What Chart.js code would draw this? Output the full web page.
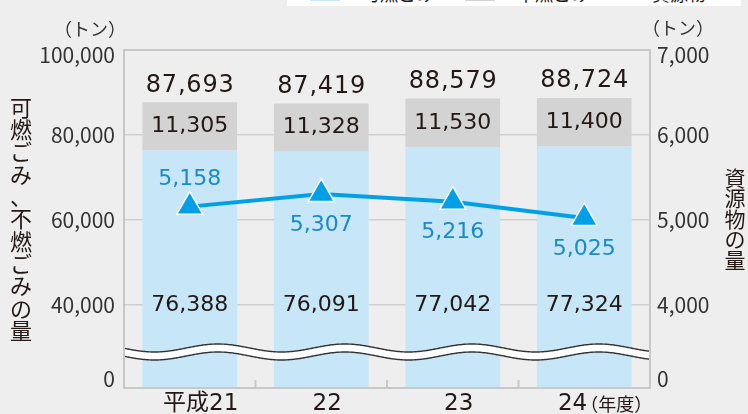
<!DOCTYPE html>
<html lang="ja">
<head>
<meta charset="utf-8">
<script src="https://cdn.jsdelivr.net/npm/chart.js@4"></script>
<style>
  html, body { margin: 0; padding: 0; background: #eeeeee; }
  #wrap { position: relative; width: 748px; height: 414px; overflow: hidden; }
  #legend { position: absolute; left: 287px; top: -18px; width: 454px; height: 24px; background: #fff;
            font: 18px "Noto Sans CJK JP", sans-serif; color: #231815; }
  #legend span { position: absolute; top: 0; line-height: 23px; }
  #legend .sw { top: 4px; width: 30px; height: 15px; }
</style>
</head>
<body>
<div id="wrap">
  <canvas id="chart" width="748" height="414"></canvas>
  <div id="legend">
    <span class="sw" style="left:23px;background:#c7e6f8"></span><span style="left:75px">可燃ごみ</span>
    <span class="sw" style="left:178px;background:#d3d3d3"></span><span style="left:230px">不燃ごみ</span>
    <span class="sw" style="left:318px;top:10px;height:4px;background:#00a0e9"></span><span style="left:365px">資源物</span>
  </div>
</div>
<script>
// data
const years = ["平成21", "22", "23", "24"];
const yearSuffix = "（年度）";
const burnable = [76388, 76091, 77042, 77324];
const nonBurnable = [11305, 11328, 11530, 11400];
const totals = [87693, 87419, 88579, 88724];   // as printed on the chart
const resources = [5158, 5307, 5216, 5025];
const resourceLabelSide = ["above", "below", "below", "below"];
const leftTicks = [0, 40000, 60000, 80000, 100000];
const rightTicks = [0, 4000, 5000, 6000, 7000];
const gridValues = [40000, 60000, 80000];
const blueLabelAt = 40000;   // where the 可燃ごみ numbers sit

const FONT = '"Noto Sans CJK JP", "Noto Sans", sans-serif';
const NUMFONT = '"DejaVu Sans", "Noto Sans CJK JP", sans-serif';
const fmt = v => v.toLocaleString("en-US");

// text, borders and the wavy axis break
const decor = {
  id: "decor",
  afterDatasetsDraw(chart) {
    const { ctx, chartArea: a, scales } = chart;
    const x = scales.x, yl = scales.y, yr = scales.y1;
    ctx.save();

    // axis break
    const c = a.bottom - 36, amp = 4, period = 127, phase = 218;
    const wave = (px, off) => c + off - amp * Math.cos(2 * Math.PI * (px - phase) / period);
    ctx.beginPath();
    for (let px = a.left; px <= a.right; px++) ctx.lineTo(px, wave(px, -4));
    for (let px = a.right; px >= a.left; px--) ctx.lineTo(px, wave(px, 4));
    ctx.closePath();
    ctx.fillStyle = "#fff";
    ctx.fill();
    ctx.strokeStyle = "#333";
    ctx.lineWidth = 1.4;
    [-4, 4].forEach(off => {
      ctx.beginPath();
      for (let px = a.left; px <= a.right; px++) ctx.lineTo(px, wave(px, off));
      ctx.stroke();
    });

    // frame + inner ticks
    ctx.strokeStyle = "#c8c8c8";
    ctx.lineWidth = 2;
    ctx.strokeRect(a.left, a.top, a.width, a.height);
    for (let i = 1; i < years.length; i++) {
      const bx = (x.getPixelForValue(i - 1) + x.getPixelForValue(i)) / 2;
      ctx.beginPath();
      ctx.moveTo(bx, a.bottom);
      ctx.lineTo(bx, a.bottom - 8);
      ctx.stroke();
    }

    // value labels
    ctx.textAlign = "center";
    ctx.textBaseline = "middle";
    years.forEach((_, i) => {
      const cx = x.getPixelForValue(i);
      const yTop = yl.getPixelForValue(burnable[i] + nonBurnable[i]);
      ctx.fillStyle = "#231815";
      ctx.font = "24px " + NUMFONT;
      ctx.letterSpacing = "0.8px";
      ctx.fillText(fmt(totals[i]), cx + 0.4, yTop - 17);
      ctx.letterSpacing = "0px";
      ctx.font = "22px " + NUMFONT;
      ctx.fillText(fmt(nonBurnable[i]), cx, (yTop + yl.getPixelForValue(burnable[i])) / 2);
      ctx.fillText(fmt(burnable[i]), cx, yl.getPixelForValue(blueLabelAt));
      ctx.fillStyle = "#1a8bc6";
      const py = yr.getPixelForValue(resources[i]);
      ctx.fillText(fmt(resources[i]), cx, py + (resourceLabelSide[i] === "above" ? -27 : 31));
    });

    // axis tick labels
    ctx.fillStyle = "#333";
    ctx.font = "21px " + FONT;
    const tickY = (s, v) => v < s.min ? a.bottom - 9 : s.getPixelForValue(v) + (v === s.max ? 5 : 0);
    ctx.textAlign = "right";
    leftTicks.forEach(v => ctx.fillText(fmt(v), a.left - 9, tickY(yl, v)));
    ctx.textAlign = "left";
    rightTicks.forEach(v => ctx.fillText(fmt(v), a.right + 7, tickY(yr, v)));

    // units
    ctx.font = "18px " + FONT;
    ctx.textAlign = "center";
    ctx.fillText("（トン）", 90, 29);
    ctx.fillText("（トン）", 678, 28);

    // category labels
    ctx.fillStyle = "#231815";
    years.forEach((lab, i) => {
      const cx = x.getPixelForValue(i);
      ctx.font = "23px " + NUMFONT;
      if (i === years.length - 1) {
        ctx.textAlign = "right";
        ctx.fillText(lab, cx + 3, 404);
        ctx.font = "18px " + FONT;
        ctx.textAlign = "left";
        ctx.fillText(yearSuffix, cx - 4, 404);
      } else {
        ctx.textAlign = "center";
        ctx.fillText(lab, cx + (i === 0 ? 11 : 6), 404);
      }
    });

    // vertical axis titles
    const vtext = (str, cx, step, size) => {
      ctx.font = size + "px " + FONT;
      ctx.textAlign = "center";
      const chars = [...str];
      const mid = (a.top + a.bottom) / 2;
      chars.forEach((ch, k) => ctx.fillText(ch, cx, mid + (k - (chars.length - 1) / 2) * step));
    };
    ctx.fillStyle = "#231815";
    vtext("可燃ごみ、不燃ごみの量", 21, 22.3, 22);
    vtext("資源物の量", 735, 20.5, 21);

    ctx.restore();
  }
};

new Chart(document.getElementById("chart"), {
  data: {
    labels: years,
    datasets: [
      {
        type: "line", label: "資源物", data: resources, yAxisID: "y1", order: 0,
        borderColor: "#00a0e9", borderWidth: 4, tension: 0,
        pointStyle: "triangle", pointRadius: 15, pointHoverRadius: 15,
        pointBackgroundColor: "#00a0e9", pointBorderColor: "#fff", pointBorderWidth: 1.5
      },
      {
        type: "bar", label: "可燃ごみ", data: burnable, yAxisID: "y", stack: "s", order: 1,
        backgroundColor: "#c7e6f8", categoryPercentage: 1, barPercentage: 0.72
      },
      {
        type: "bar", label: "不燃ごみ", data: nonBurnable, yAxisID: "y", stack: "s", order: 2,
        backgroundColor: "#d3d3d3", categoryPercentage: 1, barPercentage: 0.72
      }
    ]
  },
  options: {
    responsive: false,
    animation: false,
    layout: { padding: { top: 50, left: 0, right: 0, bottom: 0 } },
    plugins: { legend: { display: false }, tooltip: { enabled: false } },
    scales: {
      x: {
        stacked: true, offset: true,
        grid: { display: false }, border: { display: false }, ticks: { display: false },
        afterFit: s => { s.height = 26; }
      },
      y: {
        stacked: true, position: "left", min: 20500, max: 100000,
        ticks: { display: false }, border: { display: false },
        grid: { drawTicks: false, color: "#cfcfcf", lineWidth: 1.5 },
        afterBuildTicks: s => { s.ticks = gridValues.map(v => ({ value: v })); },
        afterFit: s => { s.width = 124; }
      },
      y1: {
        position: "right", min: 3025, max: 7000,
        ticks: { display: false }, border: { display: false }, grid: { display: false },
        afterFit: s => { s.width = 98; }
      }
    }
  },
  plugins: [decor]
});
</script>
</body>
</html>
